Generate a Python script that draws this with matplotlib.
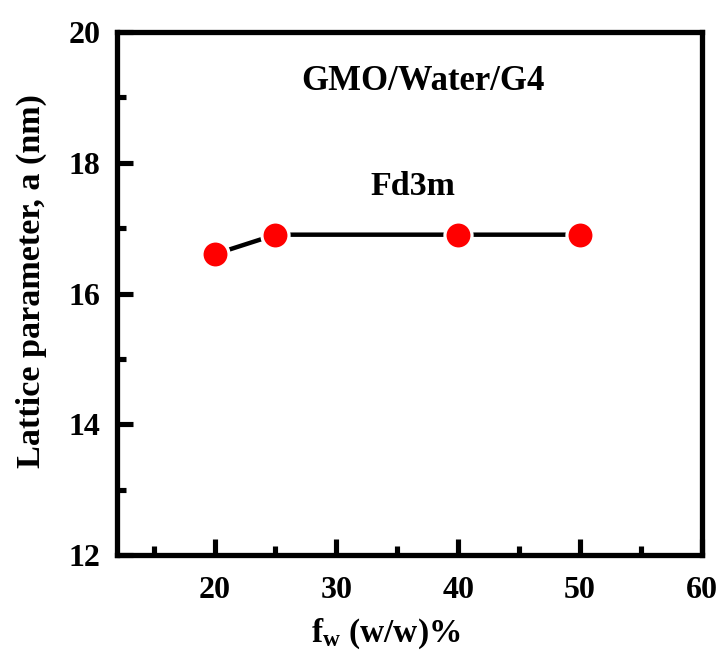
import matplotlib
matplotlib.use("Agg")
import matplotlib.pyplot as plt
from matplotlib.ticker import MultipleLocator

fw = [20, 25, 40, 50]
lattice = [16.6, 16.9, 16.9, 16.9]
title_text = "GMO/Water/G4"
phase_text = "Fd3m"
xlabel_text = r"f$_{\mathbf{w}}$ (w/w)%"
ylabel_text = "Lattice parameter, a (nm)"

plt.rcParams['font.family'] = ['Liberation Serif', 'DejaVu Serif']
plt.rcParams['font.weight'] = 'bold'
plt.rcParams['mathtext.fontset'] = 'custom'
plt.rcParams['mathtext.rm'] = 'Liberation Serif:bold'
plt.rcParams['mathtext.it'] = 'Liberation Serif:bold'
plt.rcParams['mathtext.bf'] = 'Liberation Serif:bold'

fig = plt.figure(figsize=(7.21, 6.54), dpi=100)
ax = fig.add_axes([0.1623, 0.1514, 0.8113, 0.7996])

ax.plot(fw, lattice, color='black', lw=3.2, zorder=2, solid_capstyle='butt')
ax.plot(fw, lattice, ls='none', marker='o', markersize=19.5, markerfacecolor='#ff0000',
        markeredgecolor='white', markeredgewidth=2.3, zorder=3)

ax.set_xlim(12, 60)
ax.set_ylim(12, 20)
ax.xaxis.set_major_locator(MultipleLocator(10))
ax.xaxis.set_minor_locator(MultipleLocator(5))
ax.yaxis.set_major_locator(MultipleLocator(2))
ax.yaxis.set_minor_locator(MultipleLocator(1))
ax.tick_params(which='both', direction='in', width=3.7, labelsize=23)
ax.tick_params(which='major', length=11.5)
ax.tick_params(which='minor', length=6.5)
ax.tick_params(axis='x', which='both', pad=15)
ax.tick_params(axis='y', which='both', pad=12)
ax.tick_params(top=False, right=False)
for s in ax.spines.values():
    s.set_linewidth(3.8)
for lbl in ax.get_xticklabels() + ax.get_yticklabels():
    lbl.set_fontweight('bold')

ax.text(0.46, -0.165, xlabel_text, transform=ax.transAxes, ha='center', va='baseline',
        fontsize=24, fontweight='bold')
ax.text(-0.147, 0.524, ylabel_text, transform=ax.transAxes, ha='center', va='center',
        rotation=90, fontsize=24.6, fontweight='bold')

ax.text(0.523, 0.889, title_text, transform=ax.transAxes, ha='center', va='baseline',
        fontsize=25, fontweight='bold')
ax.text(0.506, 0.688, phase_text, transform=ax.transAxes, ha='center', va='baseline',
        fontsize=24.5, fontweight='bold')

fig.savefig("out.png", dpi=100)
